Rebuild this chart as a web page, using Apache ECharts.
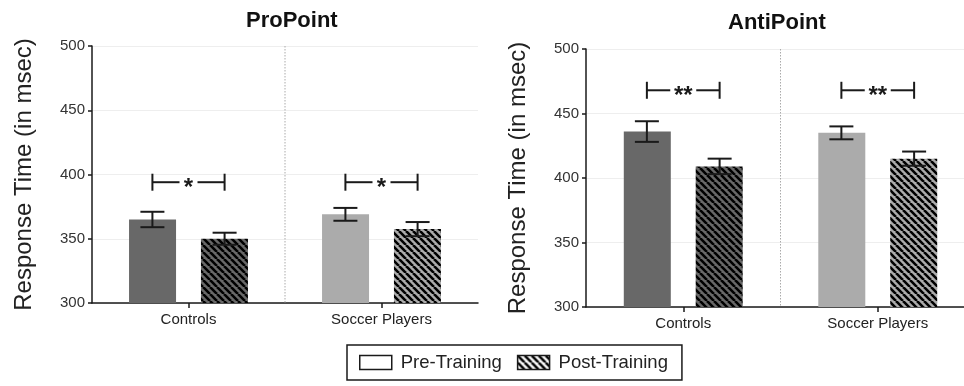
<!DOCTYPE html>
<html>
<head>
<meta charset="utf-8">
<script src="https://cdn.jsdelivr.net/npm/echarts@6/dist/echarts.min.js"></script>
<style>
html,body{margin:0;padding:0;background:#fff;}
#chart{width:964px;height:386px;}
</style>
</head>
<body>
<div id="chart"></div>
<script>
// ---- data ----
const categories = ['Controls', 'Soccer Players'];
const yTicks = { min: 300, max: 500, interval: 50 };

const proPre = [365, 369];
const proPreErr = [6, 5];
const proPost = [350, 357.5];
const proPostErr = [4.7, 5.5];
const proSig = [394, 394];
const proSigLabel = ['*', '*'];

const antiPre = [436, 435];
const antiPreErr = [8, 5];
const antiPost = [409, 415];
const antiPostErr = [6, 5.5];
const antiSig = [468, 468];
const antiSigLabel = ['**', '**'];

const panelTitles = ['ProPoint', 'AntiPoint'];
const yName = 'Response Time (in msec)';
const seriesNames = ['Pre-Training', 'Post-Training'];

// ---- styles ----
const FONT = 'Liberation Sans, Arial, Helvetica, sans-serif';
const DARK = '#686868';
const LIGHT = '#ababab';
const INK = '#1a1a1a';

function hatch(bg, size, lw, stripe) {
  const c = document.createElement('canvas');
  c.width = size; c.height = size;
  const g = c.getContext('2d');
  g.fillStyle = bg; g.fillRect(0, 0, size, size);
  g.strokeStyle = stripe; g.lineWidth = lw;
  g.beginPath();
  [-size, 0, size].forEach(o => { g.moveTo(o, 0); g.lineTo(o + size, size); });
  g.stroke();
  return { image: c, repeat: 'repeat' };
}
const hatchDark = hatch(DARK, 7, 2.6, '#000');
const hatchLight = hatch(LIGHT, 7, 2.6, '#000');
const hatchLegend = hatch('#fff', 7, 2.6, '#000');

const chart = echarts.init(document.getElementById('chart'), null, { renderer: 'canvas' });

function xAxisCfg(gi) {
  return {
    type: 'category', gridIndex: gi, data: categories,
    axisLine: { lineStyle: { color: INK, width: 1.5 } },
    axisTick: { show: true, alignWithLabel: true, length: 5, lineStyle: { color: INK, width: 1.5 } },
    axisLabel: { color: '#222', fontSize: 15, fontFamily: FONT, margin: 9 },
    splitLine: { show: false }
  };
}
function yAxisCfg(gi) {
  return {
    type: 'value', gridIndex: gi, min: yTicks.min, max: yTicks.max, interval: yTicks.interval,
    name: yName, nameLocation: 'middle', nameGap: 56,
    nameTextStyle: { color: '#222', fontSize: 24, fontFamily: FONT },
    axisLine: { show: true, lineStyle: { color: INK, width: 1.5 } },
    axisTick: { show: true, length: 4, lineStyle: { color: INK, width: 1.5 } },
    axisLabel: { color: '#333', fontSize: 15, fontFamily: FONT, margin: 7 },
    splitLine: { show: true, lineStyle: { color: '#eeeeee', width: 1 } }
  };
}

const BAND_OFF = 0.187;

function errRender(params, api) {
  const cat = api.value(0), lo = api.value(1), hi = api.value(2), side = api.value(3);
  const band = api.size([1, 0])[0];
  const pHi = api.coord([cat, hi]), pLo = api.coord([cat, lo]);
  const x = pHi[0] + side * band * BAND_OFF;
  const cw = 12;
  const st = { stroke: INK, lineWidth: 2 };
  return {
    type: 'group', children: [
      { type: 'line', shape: { x1: x, y1: pHi[1], x2: x, y2: pLo[1] }, style: st },
      { type: 'line', shape: { x1: x - cw, y1: pHi[1], x2: x + cw, y2: pHi[1] }, style: st },
      { type: 'line', shape: { x1: x - cw, y1: pLo[1], x2: x + cw, y2: pLo[1] }, style: st }
    ]
  };
}

function sigRender(labels) {
  return function (params, api) {
    const cat = api.value(0), yv = api.value(1);
    const band = api.size([1, 0])[0];
    const p = api.coord([cat, yv]);
    const x1 = p[0] - band * BAND_OFF, x2 = p[0] + band * BAND_OFF;
    const y = p[1];
    const lab = labels[params.dataIndex];
    const gap = 9 + 4 * (lab.length - 1);
    const st = { stroke: INK, lineWidth: 2 };
    const h = 8.5;
    return {
      type: 'group', children: [
        { type: 'line', shape: { x1: x1, y1: y, x2: p[0] - gap, y2: y }, style: st },
        { type: 'line', shape: { x1: p[0] + gap, y1: y, x2: x2, y2: y }, style: st },
        { type: 'line', shape: { x1: x1, y1: y - h, x2: x1, y2: y + h }, style: st },
        { type: 'line', shape: { x1: x2, y1: y - h, x2: x2, y2: y + h }, style: st },
        { type: 'text', x: p[0], y: y + 6, style: { text: lab, fill: INK, font: 'bold 24px ' + FONT, textAlign: 'center', textVerticalAlign: 'middle' } }
      ]
    };
  };
}

function dividerRender(params, api) {
  const band = api.size([1, 0])[0];
  const top = api.coord([api.value(0), yTicks.max]);
  const bot = api.coord([api.value(0), yTicks.min]);
  const x = top[0] + band / 2;
  return { type: 'line', shape: { x1: x, y1: top[1], x2: x, y2: bot[1] }, style: { stroke: '#aaaaaa', lineWidth: 1, lineDash: [1.5, 1.5] } };
}

function panelSeries(gi, pre, preErr, post, postErr, sig, sigLabel) {
  return [
    {
      type: 'custom', xAxisIndex: gi, yAxisIndex: gi, renderItem: dividerRender, data: [[0]], silent: true, z: 1
    },
    {
      name: seriesNames[0], type: 'bar', xAxisIndex: gi, yAxisIndex: gi, barWidth: 47, barGap: '53%',
      itemStyle: { color: DARK },
      data: pre.map((v, i) => ({ value: v, itemStyle: { color: i === 0 ? DARK : LIGHT } })), z: 2
    },
    {
      name: seriesNames[1], type: 'bar', xAxisIndex: gi, yAxisIndex: gi, barWidth: 47, barGap: '53%',
      itemStyle: { color: hatchDark },
      data: post.map((v, i) => ({ value: v, itemStyle: { color: i === 0 ? hatchDark : hatchLight } })), z: 2
    },
    {
      type: 'custom', xAxisIndex: gi, yAxisIndex: gi, renderItem: errRender, z: 3,
      data: pre.map((v, i) => [i, v - preErr[i], v + preErr[i], -1])
        .concat(post.map((v, i) => [i, v - postErr[i], v + postErr[i], 1]))
    },
    {
      type: 'custom', xAxisIndex: gi, yAxisIndex: gi, renderItem: sigRender(sigLabel), z: 3,
      data: sig.map((v, i) => [i, v])
    }
  ];
}

const option = {
  animation: false,
  backgroundColor: '#fff',
  title: [
    { text: panelTitles[0], left: 246, top: 10, padding: 0, textStyle: { fontSize: 22, fontWeight: 'bold', color: '#111', fontFamily: FONT } },
    { text: panelTitles[1], left: 728, top: 12, padding: 0, textStyle: { fontSize: 22, fontWeight: 'bold', color: '#111', fontFamily: FONT } }
  ],
  legend: {
    left: 347, top: 345, orient: 'horizontal',
    padding: [8, 14, 8, 12], itemWidth: 32, itemHeight: 14, itemGap: 15,
    borderColor: INK, borderWidth: 1.5, borderRadius: 0,
    textStyle: { fontSize: 18.5, color: '#222', fontFamily: FONT, padding: [0, 0, 0, 4] },
    data: [
      { name: seriesNames[0], icon: 'rect', itemStyle: { color: '#fff', borderColor: INK, borderWidth: 1.5 } },
      { name: seriesNames[1], icon: 'rect', itemStyle: { color: hatchLegend, borderColor: INK, borderWidth: 1.5 } }
    ],
    selectedMode: false
  },
  grid: [
    { left: 92, top: 46, width: 386, height: 257, containLabel: false, outerBoundsMode: 'none' },
    { left: 586, top: 49, width: 389, height: 258, containLabel: false, outerBoundsMode: 'none' }
  ],
  xAxis: [xAxisCfg(0), xAxisCfg(1)],
  yAxis: [yAxisCfg(0), yAxisCfg(1)],
  series: panelSeries(0, proPre, proPreErr, proPost, proPostErr, proSig, proSigLabel)
    .concat(panelSeries(1, antiPre, antiPreErr, antiPost, antiPostErr, antiSig, antiSigLabel))
};
chart.setOption(option);
</script>
</body>
</html>
